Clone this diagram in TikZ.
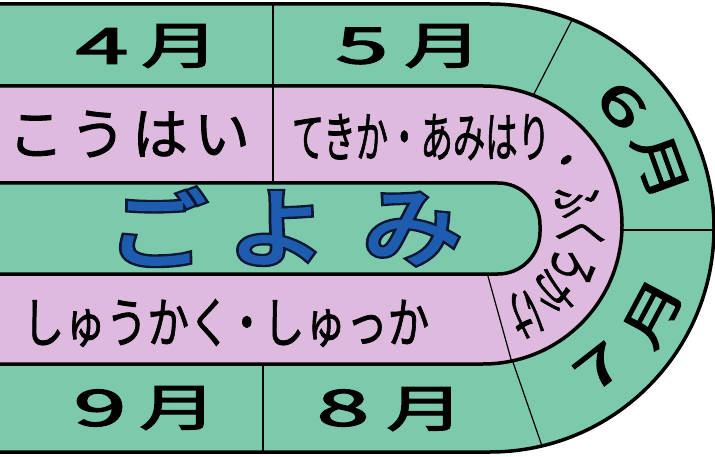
\documentclass[tikz,border=0pt]{standalone}
\usepackage{fontspec}
\newfontfamily\jpmon{Noto Sans CJK JP}[FakeBold=2.5]
\newfontfamily\jptxt{Noto Sans CJK JP}[FakeBold=1.5]
\newfontfamily\jpkana{Noto Sans CJK JP}[FakeBold=2.5]
\newfontfamily\jpkanaout{Noto Sans CJK JP}[FakeBold=8]
\definecolor{bandgreen}{RGB}{124,202,171}
\definecolor{bandpink}{RGB}{221,186,222}
\definecolor{kanablue}{RGB}{30,92,176}
\definecolor{kanaline}{RGB}{14,24,52}
\tikzset{
  border/.style={line width=3.5pt, draw=black, line join=round},
  divider/.style={line width=1.8pt, draw=black},
  thindiv/.style={line width=1.2pt, draw=black},
  month/.style={font=\jpmon\fontsize{50}{50}\selectfont, inner sep=0pt, text=black},
  bandtext/.style={font=\jptxt\fontsize{54}{54}\selectfont, inner sep=0pt, text=black},
  arctext/.style={font=\jptxt\fontsize{56}{56}\selectfont, inner sep=0pt, text=black},
  kanaout/.style={font=\jpkanaout\fontsize{86}{86}\selectfont, inner sep=0pt, text=kanaline},
  kanain/.style={font=\jpkana\fontsize{86}{86}\selectfont, inner sep=0pt, text=kanablue},
}
\begin{document}
\begin{tikzpicture}[x=1pt,y=1pt]
\useasboundingbox (0,0) rectangle (715,456);
\clip (0,0) rectangle (715,456);
% fills
\fill[white] (0,0) rectangle (715,456);
\fill[bandgreen] (-20,4) -- (490,4) arc[start angle=-90,end angle=90,radius=224] -- (-20,452) -- cycle;
\fill[bandpink] (-20,92) -- (483,92) arc[start angle=-90,end angle=90,radius=139] -- (-20,370) -- cycle;
\fill[bandgreen] (-20,182) -- (498,182) arc[start angle=-90,end angle=0,radius=42] -- (540,231) arc[start angle=0,end angle=90,radius=42] -- (-20,273) -- cycle;
% dividers of the outer band
\begin{scope}[even odd rule]
\clip (-20,4) -- (490,4) arc[start angle=-90,end angle=90,radius=224] -- (-20,452) -- cycle
  (-20,92) -- (483,92) arc[start angle=-90,end angle=90,radius=139] -- (-20,370) -- cycle;
\draw[divider] (273,300) -- (273,470);
\draw[divider] (263,-10) -- (263,150);
\draw[thindiv] (516.5,328) -- (590.5,472);
\draw[thindiv] (590,226) -- (730,226);
\draw[thindiv] (501.5,127) -- (555.5,-29);
\end{scope}
% dividers of the middle band
\begin{scope}[even odd rule]
\clip (-20,92) -- (483,92) arc[start angle=-90,end angle=90,radius=139] -- (-20,370) -- cycle
  (-20,182) -- (498,182) arc[start angle=-90,end angle=0,radius=42] -- (540,231) arc[start angle=0,end angle=90,radius=42] -- (-20,273) -- cycle;
\draw[divider] (273,250) -- (273,400);
\draw[thindiv] (476,223) -- (524,50);
\end{scope}
% borders
\draw[border] (-20,452) -- (490,452) arc[start angle=90,end angle=-90,radius=224] -- (-20,4);
\draw[border] (-20,370) -- (483,370) arc[start angle=90,end angle=-90,radius=139] -- (-20,92);
\draw[border] (-20,273) -- (498,273) arc[start angle=90,end angle=0,radius=42] -- (540,224) arc[start angle=0,end angle=-90,radius=42] -- (-20,182);
% months
\node[month, xscale=1.9] (m4d) at (102,410) {4};
\node[month, xscale=1.55] (m4m) at (180,410) {月};
\node[month, xscale=1.9] (m5d) at (362,410) {5};
\node[month, xscale=1.55] (m5m) at (443,410) {月};
\node[month, xscale=1.9] (m9d) at (100,48) {9};
\node[month, xscale=1.55] (m9m) at (178,48) {月};
\node[month, xscale=1.9] (m8d) at (343,48) {8};
\node[month, xscale=1.55] (m8m) at (425,47) {月};
\node[month, rotate=-47, xscale=1.7] (m6d) at ([shift={(490,228)}]43:180) {6};
\node[month, rotate=-70, xscale=1.4] (m6m) at ([shift={(490,228)}]20:181) {月};
\node[month, rotate=38, xscale=1.7] (m7d) at ([shift={(490,228)}]-52:177) {7};
\node[month, rotate=62, xscale=1.4] (m7m) at ([shift={(490,228)}]-27.5:184) {月};
% middle band texts
\node[bandtext, font=\jptxt\fontsize{56}{56}\selectfont] (kouhai) at (129,322) {こ\hspace{6pt}う\hspace{6pt}は\hspace{6pt}い};
\node[bandtext, xscale=0.6] (tekika) at (421,319) {てきか・あみはり};
\node[bandtext, xscale=0.77] (shukaku) at (226,133) {しゅうかく\hspace{-6pt}・\hspace{-6pt}しゅっか};
% arc text
\node[arctext, rotate=-52, xscale=0.56] (a1) at ([shift={(483,231)}]38:98) {・};
\node[arctext, rotate=-75, xscale=0.56] (a2) at ([shift={(483,231)}]15:98) {ふ};
\node[arctext, rotate=-95, xscale=0.56] (a3) at ([shift={(483,231)}]-5:98) {く};
\node[arctext, rotate=-115, xscale=0.56] (a4) at ([shift={(483,231)}]-25:98) {ろ};
\node[arctext, rotate=-134, xscale=0.56] (a5) at ([shift={(483,231)}]-44:98) {か};
\node[arctext, rotate=-155, xscale=0.56] (a6) at ([shift={(483,231)}]-65:98) {け};
% title
\node[kanaout, xscale=1.15] (go1) at (157,229) {ご};
\node[kanain, xscale=1.15] (go2) at (157,229) {ご};
\node[kanaout, xscale=1.15] (yo1) at (277,228) {よ};
\node[kanain, xscale=1.15] (yo2) at (277,228) {よ};
\node[kanaout, xscale=1.15] (mi1) at (412,227) {み};
\node[kanain, xscale=1.15] (mi2) at (412,227) {み};
\end{tikzpicture}
\end{document}
